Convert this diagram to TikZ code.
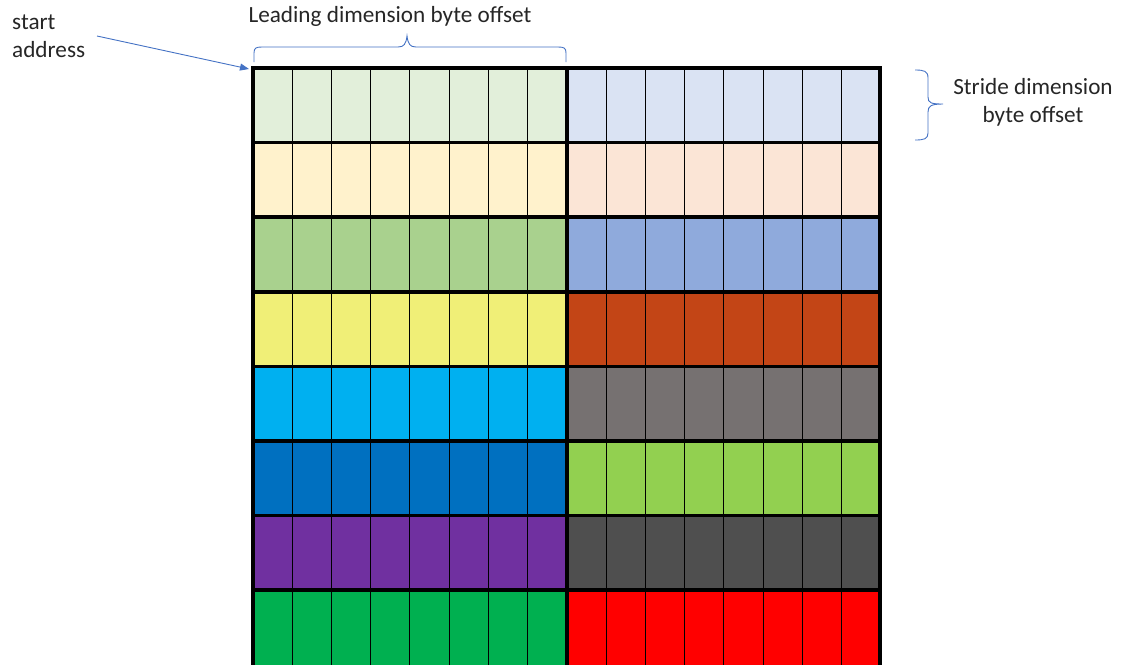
\documentclass[tikz,border=0pt]{standalone}
\usepackage{fontspec}
\setmainfont{Carlito}
\usetikzlibrary{arrows.meta}
\definecolor{bracecol}{HTML}{4472C4}
\definecolor{cA}{HTML}{E2EFDA}\definecolor{dA}{HTML}{DAE3F3}
\definecolor{cB}{HTML}{FFF2CC}\definecolor{dB}{HTML}{FBE5D6}
\definecolor{cC}{HTML}{A9D18E}\definecolor{dC}{HTML}{8FAADC}
\definecolor{cD}{HTML}{F0EF77}\definecolor{dD}{HTML}{C34516}
\definecolor{cE}{HTML}{00B0F0}\definecolor{dE}{HTML}{767171}
\definecolor{cF}{HTML}{0070C0}\definecolor{dF}{HTML}{92D050}
\definecolor{cG}{HTML}{7030A0}\definecolor{dG}{HTML}{4F4F4F}
\definecolor{cH}{HTML}{00B050}\definecolor{dH}{HTML}{FF0000}
\tikzset{
  lbl/.style={font=\fontsize{23.2}{28}\selectfont, text=black!85, inner sep=0pt},
  thin cell/.style={draw=black, line width=0.8pt},
  thick grid/.style={draw=black, line width=3.5pt},
  bracepath/.style={draw=bracecol, line width=0.9pt},
}
\begin{document}
\begin{tikzpicture}[x=1pt,y=-1pt]
\useasboundingbox (0,0) rectangle (1123,664);
\def\rowh{74.6}
\def\colw{39.2}
% fills
\foreach \c/\d [count=\r from 0] in {cA/dA,cB/dB,cC/dC,cD/dD,cE/dE,cF/dF,cG/dG,cH/dH}{
  \pgfmathsetmacro{\ya}{68+\r*\rowh}
  \pgfmathsetmacro{\yb}{68+(\r+1)*\rowh}
  \fill[\c] (253,\ya) rectangle (567,\yb);
  \fill[\d] (567,\ya) rectangle (880,\yb);
}
% thin column lines
\foreach \i in {1,...,7}{
  \draw[thin cell] (253+\i*\colw,68) -- (253+\i*\colw,666);
  \draw[thin cell] (567+\i*\colw,68) -- (567+\i*\colw,666);
}
% thick lines
\foreach \r in {1,...,7}{
  \draw[thick grid] (253,68+\r*\rowh) -- (880,68+\r*\rowh);
}
\draw[thick grid] (567,68) -- (567,666);
\draw[thick grid] (253,666) -- (253,68) -- (880,68) -- (880,666);
\coordinate (corner) at (249,69);
% labels
\node[lbl, anchor=west, align=left] (start) at (12,36) {start\\address};
\node[lbl] (lead) at (390,16) {Leading dimension byte offset};
\node[lbl, align=center] (stride) at (1033,102) {Stride dimension\\byte offset};
% arrow
\draw[bracecol, line width=0.9pt, -{Triangle[length=9pt,width=7pt]}] (97,36) -- (corner);
% top brace
\draw[bracepath] (254,62) -- (254,53) .. controls (254,48) and (256,47) .. (262,47)
  -- (398,47) .. controls (404,47) and (406,44) .. (407,36)
  .. controls (408,44) and (410,47) .. (416,47)
  -- (558,47) .. controls (564,47) and (566,48) .. (566,53) -- (566,62);
% right brace
\draw[bracepath] (915,70) .. controls (924,70) and (928,71) .. (928,78)
  -- (928,97) .. controls (928,103) and (931,104) .. (943,104)
  .. controls (931,104) and (928,106) .. (928,112)
  -- (928,133) .. controls (928,139) and (924,140) .. (915,140);
\end{tikzpicture}
\end{document}
